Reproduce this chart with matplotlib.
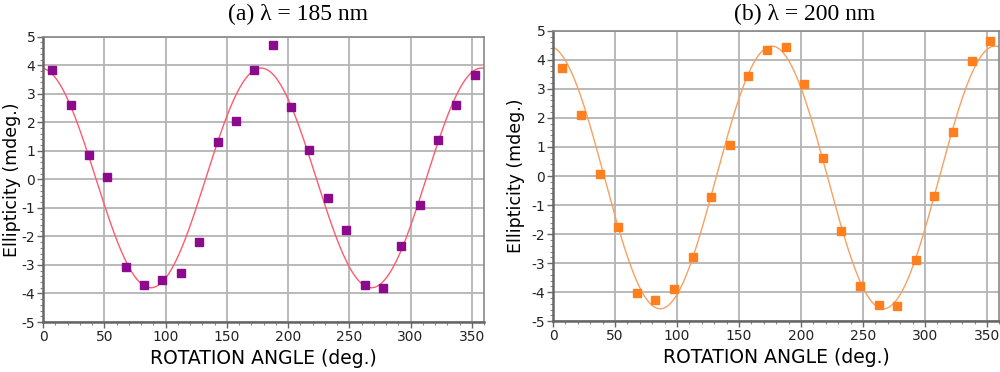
import numpy as np
import matplotlib.pyplot as plt
from matplotlib.ticker import MultipleLocator

plt.rcParams['axes.unicode_minus'] = False

# rotation angles of the measured points (deg.)
angles = [7.5, 22.5, 37.5, 52.5, 67.5, 82.5, 97.5, 112.5, 127.5, 142.5, 157.5, 172.5,
          187.5, 202.5, 217.5, 232.5, 247.5, 262.5, 277.5, 292.5, 307.5, 322.5, 337.5, 352.5]

# (a) 185 nm
ell_185 = [3.83, 2.61, 0.84, 0.09, -3.06, -3.71, -3.53, -3.27, -2.19, 1.30, 2.06, 3.82,
           4.70, 2.55, 1.04, -0.67, -1.79, -3.70, -3.80, -2.34, -0.91, 1.37, 2.61, 3.66]
# (b) 200 nm
ell_200 = [3.72, 2.10, 0.07, -1.77, -4.04, -4.27, -3.90, -2.80, -0.71, 1.07, 3.46, 4.33,
           4.45, 3.18, 0.62, -1.90, -3.79, -4.43, -4.46, -2.90, -0.69, 1.50, 3.97, 4.66]

# fitted curves: amp * cos(2*(theta - peak)) + offset
fit_185 = dict(amp=3.85, peak=178.0, offset=0.05)
fit_200 = dict(amp=4.52, peak=176.5, offset=-0.05)

titles = ["(a) \u03bb = 185 nm", "(b) \u03bb = 200 nm"]

fig = plt.figure(figsize=(10, 3.72), dpi=100)
ax1 = fig.add_axes([0.043, 0.1344, 0.441, 0.767])
ax2 = fig.add_axes([0.553, 0.1363, 0.4464, 0.781])

panels = [
    (ax1, ell_185, fit_185, "#8c0a8c", "#ff5a6e", 0.298, -0.05),
    (ax2, ell_200, fit_200, "#ff7f1e", "#f7a060", 0.805, -0.063),
]

theta = np.linspace(0, 360, 721)
for (ax, ell, fit, mcol, lcol, tx, ylx), title in zip(panels, titles):
    curve = fit["amp"] * np.cos(np.radians(2 * (theta - fit["peak"]))) + fit["offset"]
    ax.plot(theta, curve, color=lcol, lw=1.0, zorder=2)
    ax.plot(angles, ell, ls="none", marker="s", ms=5.5, color=mcol, zorder=3)

    ax.set_xlim(0, 360)
    ax.set_ylim(-5, 5)
    ax.xaxis.set_major_locator(MultipleLocator(50))
    ax.xaxis.set_minor_locator(MultipleLocator(10))
    ax.yaxis.set_major_locator(MultipleLocator(1))
    ax.yaxis.set_minor_locator(MultipleLocator(0.2))
    ax.grid(True, which="major", color="#b4b4b4", lw=1.3)
    ax.set_axisbelow(True)

    for s in ["left", "bottom"]:
        ax.spines[s].set_color("#666666")
        ax.spines[s].set_linewidth(1.8)
    for s in ["top", "right"]:
        ax.spines[s].set_color("#888888")
        ax.spines[s].set_linewidth(1.2)

    ax.tick_params(which="major", length=4, width=1, color="#666666",
                   labelsize=10, pad=1.5, labelcolor="#222222")
    ax.tick_params(which="minor", length=2, width=0.8, color="#888888")

    ax.set_xlabel("ROTATION ANGLE (deg.)", fontsize=13.5, labelpad=4)
    ax.set_ylabel("Ellipticity (mdeg.)", fontsize=12.5)
    ax.yaxis.set_label_coords(ylx, 0.5)

    fig.text(tx, 0.962, title, ha="center", va="center",
             family="Liberation Serif", fontsize=17)

fig.savefig("out.png", dpi=100)
